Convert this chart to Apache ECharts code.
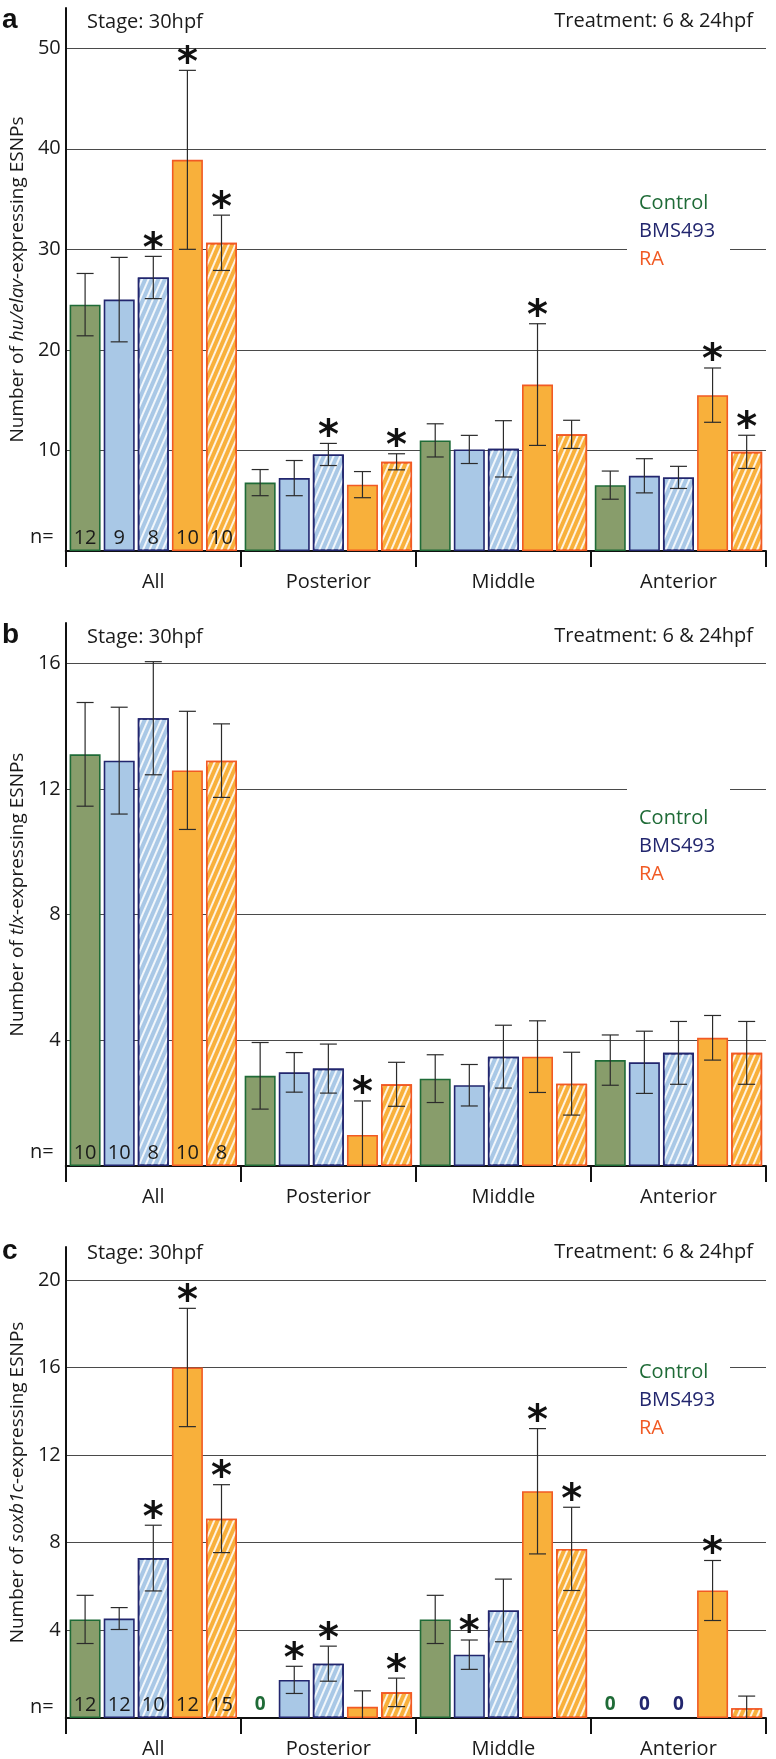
<!DOCTYPE html>
<html>
<head>
<meta charset="utf-8">
<script src="https://cdn.jsdelivr.net/npm/echarts@6/dist/echarts.min.js"></script>
<style>html,body{margin:0;padding:0;background:#fff;}#c{width:776px;height:1759px;}</style>
</head>
<body>
<div id="c"></div>
<script>
// ---------- DATA ----------
const categories = ['All', 'Posterior', 'Middle', 'Anterior'];
const seriesNames = ['Control', 'BMS493', 'BMS493 (hatched)', 'RA', 'RA (hatched)'];

// Panel a: hu/elav
const a_control = [24.5, 6.8, 11.0, 6.55];
const a_bms     = [25.0, 7.25, 10.1, 7.48];
const a_bmsH    = [27.2, 9.6, 10.16, 7.32];
const a_ra      = [38.9, 6.6, 16.55, 15.5];
const a_raH     = [30.65, 8.87, 11.6, 9.86];
const a_control_err = [3.1, 1.3, 1.65, 1.4];
const a_bms_err     = [4.2, 1.75, 1.4, 1.7];
const a_bmsH_err    = [2.1, 1.1, 2.8, 1.1];
const a_ra_err      = [8.9, 1.3, 6.05, 2.7];
const a_raH_err     = [2.75, 0.8, 1.4, 1.65];
const a_control_sig = [0, 0, 0, 0];
const a_bms_sig     = [0, 0, 0, 0];
const a_bmsH_sig    = [1, 1, 0, 0];
const a_ra_sig      = [1, 0, 1, 1];
const a_raH_sig     = [1, 1, 0, 1];
const a_n = [12, 9, 8, 10, 10];
const a_ticks = [0, 54, 10];

// Panel b: tlx
const b_control = [13.1, 2.87, 2.78, 3.37];
const b_bms     = [12.9, 2.98, 2.57, 3.3];
const b_bmsH    = [14.25, 3.1, 3.48, 3.6];
const b_ra      = [12.59, 0.99, 3.48, 4.08];
const b_raH     = [12.9, 2.6, 2.62, 3.6];
const b_control_err = [1.65, 1.06, 0.76, 0.8];
const b_bms_err     = [1.7, 0.63, 0.66, 0.99];
const b_bmsH_err    = [1.8, 0.78, 1.0, 1.0];
const b_ra_err      = [1.88, 1.08, 1.14, 0.71];
const b_raH_err     = [1.17, 0.7, 1.0, 1.0];
const b_control_sig = [0, 0, 0, 0];
const b_bms_sig     = [0, 0, 0, 0];
const b_bmsH_sig    = [0, 0, 0, 0];
const b_ra_sig      = [0, 1, 0, 0];
const b_raH_sig     = [0, 0, 0, 0];
const b_n = [10, 10, 8, 10, 8];
const b_ticks = [0, 17.28, 4];

// Panel c: soxb1c
const c_control = [4.5, 0, 4.5, 0];
const c_bms     = [4.54, 1.74, 2.89, 0];
const c_bmsH    = [7.3, 2.48, 4.91, 0];
const c_ra      = [16.0, 0.51, 10.35, 5.82];
const c_raH     = [9.1, 1.17, 7.72, 0.45];
const c_control_err = [1.1, 0, 1.1, 0];
const c_bms_err     = [0.5, 0.62, 0.67, 0];
const c_bmsH_err    = [1.5, 0.8, 1.43, 0];
const c_ra_err      = [2.7, 0.73, 2.86, 1.37];
const c_raH_err     = [1.55, 0.65, 1.9, 0.55];
const c_control_sig = [0, 0, 0, 0];
const c_bms_sig     = [0, 1, 1, 0];
const c_bmsH_sig    = [1, 1, 0, 0];
const c_ra_sig      = [1, 0, 1, 1];
const c_raH_sig     = [1, 1, 1, 0];
const c_n = [12, 12, 10, 12, 15];
const c_ticks = [0, 21.5, 4];

// ---------- STYLE ----------
const FONT = 'Open Sans';
const fills   = ['#889d6b', '#a9c8e6', '#a9c8e6', '#f8b03b', '#f8b03b'];
const borders = ['#1f6b37', '#22266e', '#22266e', '#f15a24', '#f15a24'];
const hatched = [false, false, true, false, true];
const legendColors = ['#1f6b37', '#22266e', '#f15a24'];
const BW = 31, GAPF = 0.1;
const hatchDecal = {
  symbol: 'rect', symbolSize: 1, dashArrayX: [1, 0], dashArrayY: [1.4, 3.2],
  rotation: -Math.PI / 2.7, color: 'rgba(255,255,255,0.85)'
};

const panels = [
  { vals: [a_control, a_bms, a_bmsH, a_ra, a_raH],
    errs: [a_control_err, a_bms_err, a_bmsH_err, a_ra_err, a_raH_err],
    sigs: [a_control_sig, a_bms_sig, a_bmsH_sig, a_ra_sig, a_raH_sig],
    n: a_n, ticks: a_ticks, gene: 'hu/elav', letter: 'a',
    top: 8, bottom: 551 },
  { vals: [b_control, b_bms, b_bmsH, b_ra, b_raH],
    errs: [b_control_err, b_bms_err, b_bmsH_err, b_ra_err, b_raH_err],
    sigs: [b_control_sig, b_bms_sig, b_bmsH_sig, b_ra_sig, b_raH_sig],
    n: b_n, ticks: b_ticks, gene: 'tlx', letter: 'b',
    top: 623, bottom: 1166 },
  { vals: [c_control, c_bms, c_bmsH, c_ra, c_raH],
    errs: [c_control_err, c_bms_err, c_bmsH_err, c_ra_err, c_raH_err],
    sigs: [c_control_sig, c_bms_sig, c_bmsH_sig, c_ra_sig, c_raH_sig],
    n: c_n, ticks: c_ticks, gene: 'soxb1c', letter: 'c',
    top: 1247, bottom: 1721 }
];
const headerY = [22, 637, 1253];
const legendY = [203, 818, 1372];

const grids = [], xAxes = [], yAxes = [], series = [], graphics = [];

panels.forEach((p, pi) => {
  grids.push({ left: 61, right: 10, top: p.top, height: p.bottom - p.top });
  xAxes.push({
    type: 'category', gridIndex: pi, data: categories,
    axisLine: { lineStyle: { color: '#111', width: 2 } },
    axisTick: { show: true, length: 16, lineStyle: { color: '#111', width: 2 } },
    axisLabel: { margin: 21, fontSize: 20, color: '#1a1a1a', fontFamily: FONT }
  });
  yAxes.push({
    type: 'value', gridIndex: pi, min: p.ticks[0], max: p.ticks[1], interval: p.ticks[2],
    name: '{n|Number of }{i|' + p.gene + '}{n|-expressing ESNPs}',
    nameLocation: 'middle', nameGap: 38, nameRotate: 90,
    nameTextStyle: { rich: {
      n: { fontSize: 19, fontFamily: FONT, color: '#1a1a1a' },
      i: { fontSize: 19, fontFamily: FONT, fontStyle: 'italic', color: '#1a1a1a' } } },
    axisLine: { show: true, lineStyle: { color: '#111', width: 2 } },
    axisTick: { show: false },
    axisLabel: { showMinLabel: false, showMaxLabel: false, fontSize: 20, color: '#1a1a1a',
      fontFamily: FONT, margin: 5, padding: [0, 0, 12, 0] },
    splitLine: { show: true, showMinLine: false, showMaxLine: false,
      lineStyle: { color: '#4a4a4a', width: 1.2 } }
  });
  for (let s = 0; s < 5; s++) {
    const nval = p.n[s];
    series.push({
      type: 'bar', name: seriesNames[s], xAxisIndex: pi, yAxisIndex: pi,
      data: p.vals[s].map(v => v === 0 ? { value: v, itemStyle: { borderWidth: 0 } } : v),
      barWidth: BW, barGap: (GAPF * 100) + '%',
      itemStyle: { color: fills[s], borderColor: borders[s], borderWidth: 1.6,
        decal: hatched[s] ? hatchDecal : null },
      label: { show: true, position: 'insideBottom', distance: 3,
        formatter: (prm) => prm.dataIndex === 0 ? String(nval) : '',
        fontSize: 20, color: '#1a1a1a', fontFamily: FONT },
      emphasis: { disabled: true }, silent: true, z: 2
    });
  }
  const errData = [];
  for (let s = 0; s < 5; s++) {
    for (let c = 0; c < categories.length; c++) {
      errData.push([c, s, p.vals[s][c], p.errs[s][c], p.sigs[s][c]]);
    }
  }
  series.push({
    type: 'custom', xAxisIndex: pi, yAxisIndex: pi, data: errData, z: 5, silent: true,
    encode: { x: 0, y: 2 },
    renderItem: (params, api) => {
      const cat = api.value(0), s = api.value(1), v = api.value(2), e = api.value(3), sig = api.value(4);
      const base = api.coord([cat, 0]);
      const x = base[0] + (s - 2) * BW * (1 + GAPF);
      const ch = [];
      if (v === 0 && e === 0) {
        ch.push({ type: 'text', style: { text: '0', x: x, y: base[1] - 13, align: 'center',
          verticalAlign: 'middle', fontSize: 19, fontWeight: 'bold', fontFamily: FONT,
          fill: borders[s] } });
        return { type: 'group', children: ch };
      }
      const yt = api.coord([cat, v + e])[1];
      const lo = Math.max(0, v - e);
      const yb = api.coord([cat, lo])[1];
      const ls = { stroke: '#2b2b2b', lineWidth: 1.2 };
      const cw = 8.5;
      ch.push({ type: 'line', shape: { x1: x, y1: yt, x2: x, y2: yb }, style: ls });
      ch.push({ type: 'line', shape: { x1: x - cw, y1: yt, x2: x + cw, y2: yt }, style: ls });
      if (lo > 0) ch.push({ type: 'line', shape: { x1: x - cw, y1: yb, x2: x + cw, y2: yb }, style: ls });
      if (sig) {
        ch.push({ type: 'text', style: { text: '*', x: x, y: yt - 6, align: 'center',
          verticalAlign: 'middle', fontSize: 40, fontWeight: 'bold', fontFamily: 'DejaVu Sans',
          fill: '#111' } });
      }
      return { type: 'group', children: ch };
    }
  });

  // header texts
  graphics.push({ type: 'text', left: 2, top: headerY[pi] - 16, z: 100,
    style: { text: p.letter, fontSize: 28, fontWeight: 'bold', fontFamily: 'Liberation Sans', fill: '#111' } });
  graphics.push({ type: 'text', x: 87, y: headerY[pi], z: 100,
    style: { text: 'Stage: 30hpf', fontSize: 20, fontFamily: FONT, fill: '#1a1a1a', verticalAlign: 'middle' } });
  graphics.push({ type: 'text', x: 753, y: headerY[pi] - 1, z: 100,
    style: { text: 'Treatment: 6 & 24hpf', fontSize: 20, fontFamily: FONT, fill: '#1a1a1a',
      align: 'right', verticalAlign: 'middle' } });
  // n=
  graphics.push({ type: 'text', x: 30, y: p.bottom - 14, z: 100,
    style: { text: 'n=', fontSize: 20, fontFamily: FONT, fill: '#1a1a1a', verticalAlign: 'middle' } });
  // legend block
  const ly = legendY[pi];
  graphics.push({ type: 'rect', z: 90, shape: { x: 627, y: ly - 32, width: 103, height: 102 },
    style: { fill: '#fff' } });
  ['Control', 'BMS493', 'RA'].forEach((t, k) => {
    graphics.push({ type: 'text', x: 639, y: ly + k * 28, z: 100,
      style: { text: t, fontSize: 20, fontFamily: FONT, fill: legendColors[k], verticalAlign: 'middle' } });
  });
});

const chart = echarts.init(document.getElementById('c'), null, { renderer: 'canvas' });
chart.setOption({
  animation: false,
  backgroundColor: '#fff',
  grid: grids, xAxis: xAxes, yAxis: yAxes, series: series,
  graphic: { elements: graphics }
});
</script>
</body>
</html>
